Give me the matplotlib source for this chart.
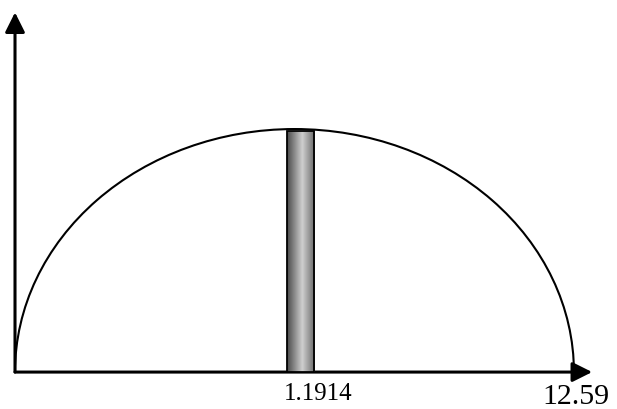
import numpy as np
import matplotlib.pyplot as plt
from matplotlib.patches import Arc, Rectangle
from matplotlib.colors import LinearSegmentedColormap

# values
x_end = 12.59          # right end of the half ellipse
x_end_label = "12.59"
peak = 1.0             # height of the half ellipse
bar_center = 6.43
bar_width = 0.61
bar_height = 0.99
bar_label = "1.1914"

# axis extents (data units)
x_axis_end = 13.0
y_axis_end = 1.48

fig = plt.figure(figsize=(6.17, 4.09), dpi=100)
ax = fig.add_axes([0, 0, 1, 1])
ax.set_xlim(-0.338, 13.56)
ax.set_ylim(-0.152, 1.531)
ax.axis('off')

# axes with arrow heads
arrow = dict(arrowstyle='-|>,head_length=0.6,head_width=0.3', lw=2.2,
             color='black', mutation_scale=20, shrinkA=0, shrinkB=0)
ax.annotate('', xy=(x_axis_end, 0), xytext=(0, 0), arrowprops=arrow)
ax.annotate('', xy=(0, y_axis_end), xytext=(0, 0), arrowprops=arrow)

# half ellipse
ax.add_patch(Arc((x_end / 2, 0), x_end, 2 * peak, theta1=0, theta2=180,
                 lw=1.5, color='black'))

# bar with cylinder like shading
cmap = LinearSegmentedColormap.from_list(
    'cyl', [(0, '#4a4a4a'), (0.55, '#cfcfcf'), (1, '#6a6a6a')])
grad = np.linspace(0, 1, 100).reshape(1, -1)
x0 = bar_center - bar_width / 2
ax.imshow(grad, cmap=cmap, aspect='auto', zorder=3,
          extent=(x0, x0 + bar_width, 0, bar_height))
ax.add_patch(Rectangle((x0, 0), bar_width, bar_height, fill=False,
                       ec='black', lw=1.3, zorder=4))

# labels
ax.text(6.06, -0.115, bar_label, family='Liberation Serif', fontsize=18,
        ha='left', va='baseline')
ax.text(11.88, -0.132, x_end_label, family='Liberation Serif', fontsize=21.5,
        ha='left', va='baseline')

plt.savefig('out.png', dpi=100)
